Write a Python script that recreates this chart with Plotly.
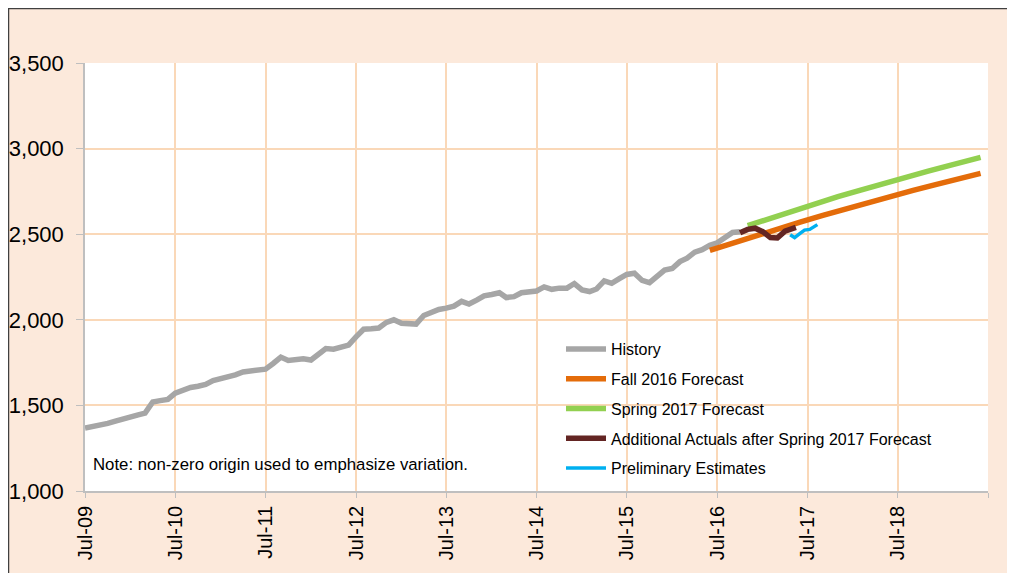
import pandas as pd
import plotly.graph_objects as go

# ---------------- data ----------------
hist_start = "2009-07-01"
history = [1368, 1375, 1385, 1395, 1408, 1422, 1435, 1445, 1455, 1520,
           1528, 1535, 1572, 1590, 1605, 1612, 1622, 1645, 1655, 1665,
           1678, 1695, 1700, 1705, 1712, 1745, 1782, 1762, 1770, 1772,
           1765, 1795, 1832, 1828, 1840, 1852, 1900, 1945, 1948, 1952,
           1985, 2000, 1980, 1978, 1975, 2025, 2045, 2060, 2068, 2080,
           2108, 2092, 2115, 2140, 2148, 2158, 2130, 2135, 2158, 2165,
           2168, 2192, 2178, 2185, 2185, 2212, 2175, 2165, 2180, 2227,
           2213, 2240, 2265, 2272, 2230, 2217, 2258, 2290, 2300, 2340,
           2360, 2395, 2410, 2435, 2450, 2485, 2510, 2514]

fall_dates = ["2016-06-01", "2016-09-01", "2016-12-01", "2017-03-01", "2017-06-01",
              "2017-09-01", "2017-12-01", "2018-03-01", "2018-06-01", "2018-09-01",
              "2018-12-01", "2019-03-01", "2019-06-01"]
fall_2016 = [2405, 2448, 2490, 2531, 2571, 2610, 2648, 2685, 2721, 2756, 2790, 2823, 2855]

spring_dates = ["2016-11-01", "2017-02-01", "2017-05-01", "2017-08-01", "2017-11-01",
                "2018-02-01", "2018-05-01", "2018-08-01", "2018-11-01", "2019-02-01",
                "2019-05-01", "2019-06-01"]
spring_2017 = [2550, 2594, 2637, 2679, 2719, 2758, 2796, 2833, 2869, 2904, 2938, 2949]

actual_dates = ["2016-10-01", "2016-11-01", "2016-12-01", "2017-01-01", "2017-02-01",
                "2017-03-01", "2017-04-01", "2017-05-01", "2017-05-15"]
additional_actuals = [2508, 2528, 2535, 2515, 2480, 2478, 2518, 2532, 2540]

prelim_dates = ["2017-04-22", "2017-05-10", "2017-06-01", "2017-06-19", "2017-07-10", "2017-08-10"]
preliminary = [2497, 2480, 2505, 2524, 2528, 2556]

tick_dates = ["2009-07-01", "2010-07-01", "2011-07-01", "2012-07-01", "2013-07-01",
              "2014-07-01", "2015-07-01", "2016-07-01", "2017-07-01", "2018-07-01",
              "2019-07-01"]
tick_labels = ["Jul-09", "Jul-10", "Jul-11", "Jul-12", "Jul-13", "Jul-14",
               "Jul-15", "Jul-16", "Jul-17", "Jul-18", ""]

y_ticks = [1000, 1500, 2000, 2500, 3000, 3500]
y_labels = ["1,000", "1,500", "2,000", "2,500", "3,000", "3,500"]

series_names = ["History", "Fall 2016 Forecast", "Spring 2017 Forecast",
                "Additional Actuals after Spring 2017 Forecast", "Preliminary Estimates"]

# ---------------- figure ----------------
hist_dates = pd.date_range(hist_start, periods=len(history), freq="MS")

PEACH = "#FCE9DB"
GRID = "#FAD8B8"
AXIS = "#BFBFBF"
FONT = "Liberation Sans, Arial, sans-serif"

fig = go.Figure()
traces = [
    (hist_dates, history, "#A6A6A6", 5.5),
    (pd.to_datetime(fall_dates), fall_2016, "#E46C0A", 5.5),
    (pd.to_datetime(spring_dates), spring_2017, "#92D050", 5.5),
    (pd.to_datetime(actual_dates), additional_actuals, "#632523", 5.5),
    (pd.to_datetime(prelim_dates), preliminary, "#00B0F0", 3.5),
]
for (x, y, c, w), name in zip(traces, series_names):
    fig.add_trace(go.Scatter(x=x, y=y, mode="lines", name=name, legendgroup=name,
                             line=dict(color=c, width=w), hoverinfo="skip"))

W, H = 1015, 573
OFF = 8  # page body margin
L, R, T, B = 77, 35, 55, 90
PW, PH = W - L - R, H - T - B


def px_x(p):  # page pixel -> paper x
    return (p - OFF - L) / PW


def px_y(p):  # page pixel -> paper y
    return (H - B - (p - OFF)) / PH


fig.update_layout(
    width=W, height=H,
    margin=dict(l=L, r=R, t=T, b=B, autoexpand=False),
    paper_bgcolor=PEACH, plot_bgcolor="white",
    font=dict(family=FONT, color="black"),
    showlegend=True,
    legend=dict(x=px_x(561), y=px_y(332), xanchor="left", yanchor="top",
                bgcolor="rgba(0,0,0,0)", font=dict(size=16, family=FONT),
                tracegroupgap=6, itemwidth=40),
    xaxis=dict(type="date", range=["2009-07-01", "2019-07-01"],
               tickvals=tick_dates, ticktext=tick_labels, tickangle=-90,
               tickfont=dict(size=20, family=FONT), automargin=False,
               showgrid=True, gridcolor=GRID, gridwidth=1.5,
               showline=True, linecolor=AXIS, linewidth=1.5,
               ticks="outside", ticklen=5, tickcolor=AXIS, zeroline=False),
    yaxis=dict(range=[1000, 3500], tickvals=y_ticks, ticktext=y_labels,
               tickfont=dict(size=22, family=FONT), automargin=False,
               showgrid=True, gridcolor=GRID, gridwidth=1.5,
               showline=True, linecolor=AXIS, linewidth=1.5,
               ticks="outside", ticklen=7, tickcolor=AXIS, zeroline=False,
               ticklabelstandoff=8),
    shapes=[
        # white box behind the legend hiding gridlines
        dict(type="rect", xref="paper", yref="paper", layer="between",
             x0=px_x(515), x1=1.0, y0=px_y(483), y1=px_y(338),
             fillcolor="white", line=dict(width=0)),
        # outer frame
        dict(type="rect", xref="paper", yref="paper",
             x0=px_x(8.5), x1=px_x(1100), y0=px_y(640), y1=px_y(8.5),
             line=dict(color="#404040", width=1.5), fillcolor="rgba(0,0,0,0)"),
    ],
    annotations=[
        dict(text="Note: non-zero origin used to emphasize variation.",
             xref="paper", yref="paper", x=px_x(91), y=px_y(464),
             xanchor="left", yanchor="middle", showarrow=False,
             font=dict(size=16.8, family=FONT, color="black")),
    ],
)

fig.write_html("out.html")
